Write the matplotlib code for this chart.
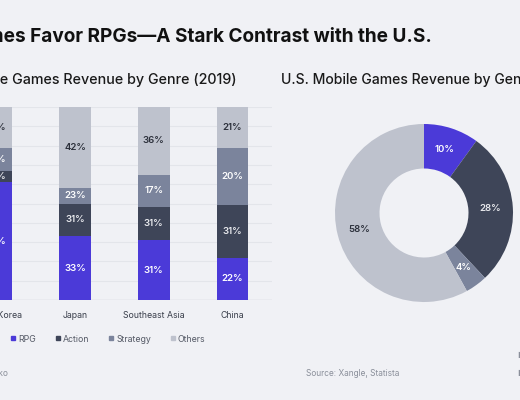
import matplotlib
matplotlib.use("Agg")
import matplotlib.pyplot as plt
from matplotlib.lines import Line2D
import numpy as np

plt.rcParams['font.family'] = ['Inter', 'DejaVu Sans']

# ---- data ----
regions = ["South Korea", "Japan", "Southeast Asia", "China"]
genres = ["RPG", "Action", "Strategy", "Others"]
rpg = [61, 33, 31, 22]
action = [6, 17, 17, 27]
strategy = [12, 8, 17, 30]
others = [21, 42, 35, 21]
rpg_labels = ["61%", "33%", "31%", "22%"]
action_labels = ["16%", "31%", "31%", "31%"]
strategy_labels = ["12%", "23%", "17%", "20%"]
others_labels = ["21%", "42%", "36%", "21%"]

us_values = [10, 28, 4, 58]

# ---- style ----
BG = "#F0F1F5"
COLORS = ["#4B3AD8", "#3E4558", "#7B849C", "#BEC2CD"]
LABEL_COLORS = ["white", "#E9EAEE", "white", "#2B2F3A"]
W, H = 520, 400
SMALL = 6.3

def px_axes(fig, x0, y_top, x1, y_bot):
    return fig.add_axes([x0 / W, 1 - y_bot / H, (x1 - x0) / W, (y_bot - y_top) / H])

fig = plt.figure(figsize=(W / 100, H / 100), dpi=100, facecolor=BG)

# titles
fig.text(432 / W, 1 - 37 / H, "Asian Mobile Games Favor RPGs\u2014A Stark Contrast with the U.S.",
         ha="right", va="center", fontsize=13.7, fontweight="bold", color="#111111")
fig.text(237 / W, 1 - 80 / H, "Asian Mobile Games Revenue by Genre (2019)",
         ha="right", va="center", fontsize=10.3, fontweight="medium", color="#1A1A1A")
fig.text(281 / W, 1 - 80 / H, "U.S. Mobile Games Revenue by Genre (2019)",
         ha="left", va="center", fontsize=10.1, fontweight="medium", color="#1A1A1A")

# ---- stacked bars ----
ax = px_axes(fig, -43, 107, 272, 300)
ax.set_facecolor(BG)
x = np.arange(len(regions))
series = [rpg, action, strategy, others]
labels = [rpg_labels, action_labels, strategy_labels, others_labels]
bottom = np.zeros(len(regions))
for vals, labs, name, col, lc in zip(series, labels, genres, COLORS, LABEL_COLORS):
    bars = ax.bar(x, vals, bottom=bottom, width=0.4, color=col, label=name, zorder=3)
    ax.bar_label(bars, labels=labs, label_type="center", color=lc,
                 fontsize=6.9, fontweight="semibold")
    bottom += np.array(vals)

ax.set_xlim(-0.5, 3.5)
ax.set_ylim(0, 100)
ax.set_yticks(np.arange(10, 101, 10))
ax.yaxis.grid(True, color="#E3E5EA", linewidth=0.8, zorder=0)
ax.axhline(0, color="#CDD0D7", linewidth=1.0, zorder=2)
for s in ax.spines.values():
    s.set_visible(False)
ax.set_xticks(x)
ax.set_xticklabels(regions)
ax.tick_params(axis="x", length=0, pad=8, labelsize=SMALL, labelcolor="#3A3F4B")
ax.tick_params(axis="y", length=0, labelleft=False)

handles = [Line2D([], [], marker="s", linestyle="none", markersize=3.5,
                  markerfacecolor=c, markeredgecolor=c) for c in COLORS]
fig.legend(handles, genres, loc="center left",
           bbox_to_anchor=(10.5 / W, 1 - 339 / H), ncol=4, frameon=False,
           fontsize=SMALL, labelcolor="#555A66", handlelength=0.6,
           handletextpad=0.27, columnspacing=2.2, borderpad=0, borderaxespad=0)

# ---- donut ----
r = 89
cx, cy = 424, 213
pax = px_axes(fig, cx - r, cy - r, cx + r, cy + r)
wedges, texts, autotexts = pax.pie(
    us_values, colors=COLORS, startangle=90, counterclock=False,
    radius=1, autopct="%d%%", pctdistance=0.75,
    wedgeprops=dict(width=0.5, linewidth=0),
    textprops=dict(fontsize=6.9, fontweight="semibold"))
for t, lc in zip(autotexts, LABEL_COLORS):
    t.set_color(lc)
pax.set_xlim(-1, 1)
pax.set_ylim(-1, 1)
pax.set_aspect("equal")
pax.axis("off")

# sources
fig.text(8 / W, 1 - 374 / H, "Source: Xangle, Niko", ha="right", va="center",
         fontsize=6.0, color="#8A8F9A")
fig.text(306 / W, 1 - 374 / H, "Source: Xangle, Statista", ha="left", va="center",
         fontsize=6.0, color="#8A8F9A")
fig.text(518 / W, 1 - 356 / H, "\u25A0 RPG", ha="left", va="center",
         fontsize=6, color="#8A8F9A")
fig.text(518 / W, 1 - 373 / H, "\u25A0 Action", ha="left", va="center",
         fontsize=6, color="#8A8F9A")

fig.savefig("out.png", dpi=100, facecolor=BG)
